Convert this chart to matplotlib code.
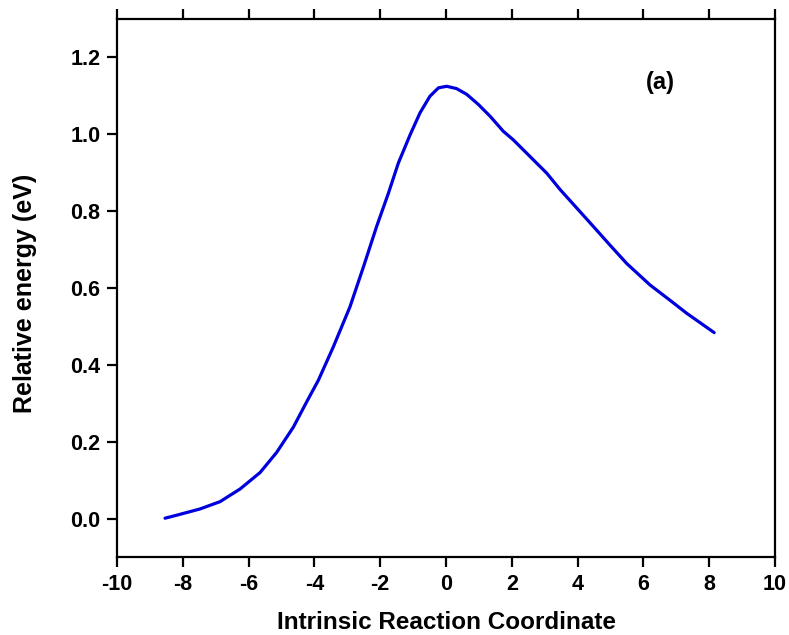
import matplotlib.pyplot as plt
import numpy as np

# IRC profile
irc = [-8.54, -8.09, -7.48, -6.87, -6.26, -5.65, -5.15, -4.64, -4.24, -3.88,
       -3.43, -2.92, -2.51, -2.11, -1.75, -1.45, -1.09, -0.79, -0.49, -0.23,
       0.02, 0.32, 0.63, 0.98, 1.34, 1.74, 2.04, 3.06, 3.47, 4.07,
       4.48, 4.98, 5.49, 6.20, 6.81, 7.32, 8.15]
energy = [0.001, 0.011, 0.025, 0.044, 0.077, 0.120, 0.172, 0.238, 0.303, 0.360,
          0.446, 0.551, 0.655, 0.760, 0.847, 0.925, 0.999, 1.056, 1.099, 1.121,
          1.125, 1.119, 1.104, 1.078, 1.047, 1.008, 0.986, 0.899, 0.856, 0.799,
          0.760, 0.712, 0.664, 0.608, 0.568, 0.534, 0.484]

xticks = np.arange(-10, 11, 2)
yticks = [0.0, 0.2, 0.4, 0.6, 0.8, 1.0, 1.2]

plt.rcParams['font.family'] = ['Liberation Sans', 'DejaVu Sans']
plt.rcParams['font.weight'] = 'bold'

fig = plt.figure(figsize=(7.89, 6.35), dpi=100)
ax = fig.add_axes([0.1483, 0.1228, 0.834, 0.8472])

ax.plot(irc, energy, color='#0000dd', lw=2.3, solid_capstyle='round',
        solid_joinstyle='round')

ax.set_xlim(-10, 10)
ax.set_ylim(-0.1, 1.3)
ax.set_xticks(xticks)
ax.set_yticks(yticks)
ax.set_yticklabels(['%.1f' % v for v in yticks])
ax.set_xticklabels(['%d' % v for v in xticks])

for s in ax.spines.values():
    s.set_linewidth(1.6)
ax.tick_params(axis='both', direction='out', length=7, width=1.6,
               labelsize=15.5, pad=5)
ax.tick_params(axis='x', top=True, labeltop=False)
ax.tick_params(axis='y', right=False)

ax.set_xlabel('Intrinsic Reaction Coordinate', fontsize=17.5, fontweight='bold', labelpad=12)
ax.set_ylabel('Relative energy (eV)', fontsize=18, fontweight='bold')
ax.yaxis.set_label_coords(-0.122, 0.49)

ax.text(6.5, 1.135, '(a)', fontsize=17, fontweight='bold', ha='center', va='center')

fig.savefig('out.png', dpi=100)
